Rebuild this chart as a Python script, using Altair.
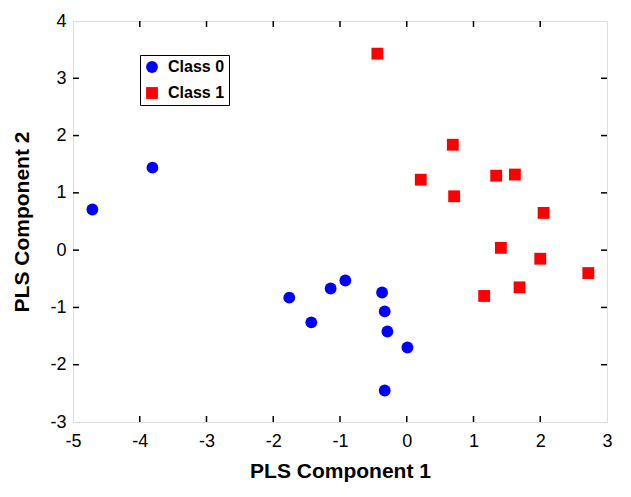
import altair as alt
import pandas as pd

class0_x = [-4.71, -3.81, -1.76, -1.43, -1.14, -0.92, -0.37, -0.33, -0.29, 0.01, -0.33]
class0_y = [0.71, 1.44, -0.83, -1.26, -0.67, -0.53, -0.74, -1.07, -1.42, -1.70, -2.45]
class1_x = [-0.44, 0.69, 0.21, 1.34, 1.62, 0.71, 2.05, 1.41, 2.00, 2.72, 1.69, 1.16]
class1_y = [3.43, 1.84, 1.23, 1.30, 1.32, 0.94, 0.65, 0.04, -0.15, -0.40, -0.65, -0.80]
x_ticks = [-4, -3, -2, -1, 0, 1, 2]
y_ticks = [-2, -1, 0, 1, 2, 3]

df = pd.DataFrame({
    "x": class0_x + class1_x,
    "y": class0_y + class1_y,
    "cls": ["Class 0"] * len(class0_x) + ["Class 1"] * len(class1_x),
})
xt = pd.DataFrame({"t": x_ticks})
yt = pd.DataFrame({"t": y_ticks})

W, H = 534, 401
FONT = "Liberation Sans"

xscale = alt.Scale(domain=[-5, 3], nice=False, zero=False)
yscale = alt.Scale(domain=[-3, 4], nice=False, zero=False)

points = alt.Chart(df).mark_point(filled=True, opacity=1, size=140).encode(
    x=alt.X("x:Q", scale=xscale, title="PLS Component 1",
            axis=alt.Axis(values=list(range(-5, 4)), ticks=False, domain=False, grid=False,
                          labelExpr="datum.value + ''",
                          labelPadding=10, labelFontSize=18, titleFontSize=21,
                          titleFontWeight="bold", titlePadding=10, labelColor="black",
                          titleColor="black", labelFont=FONT, titleFont=FONT, labelFlush=False)),
    y=alt.Y("y:Q", scale=yscale, title="PLS Component 2",
            axis=alt.Axis(values=list(range(-3, 5)), ticks=False, domain=False, grid=False,
                          labelExpr="datum.value + ''",
                          labelPadding=7, labelFontSize=18, titleFontSize=21,
                          titleFontWeight="bold", titlePadding=17, labelColor="black",
                          titleColor="black", labelFont=FONT, titleFont=FONT, labelFlush=False)),
    color=alt.Color("cls:N", scale=alt.Scale(domain=["Class 0", "Class 1"], range=["#0000ff", "#ff0000"]),
                    legend=alt.Legend(title=None, orient="none", legendX=67, legendY=34,
                                      strokeColor="black", fillColor="white", padding=4,
                                      labelFontWeight="bold", labelFontSize=16, labelFont=FONT,
                                      labelColor="black", symbolSize=140, rowPadding=10,
                                      labelOffset=8, symbolStrokeWidth=0, cornerRadius=0)),
    shape=alt.Shape("cls:N", scale=alt.Scale(domain=["Class 0", "Class 1"], range=["circle", "square"]),
                    legend=None),
)

tk = dict(color="black", strokeWidth=1.5)
bot = alt.Chart(xt).mark_rule(**tk).encode(x=alt.X("t:Q", scale=xscale), y=alt.value(H), y2=alt.value(H - 6))
top = alt.Chart(xt).mark_rule(**tk).encode(x=alt.X("t:Q", scale=xscale), y=alt.value(0), y2=alt.value(6))
lef = alt.Chart(yt).mark_rule(**tk).encode(y=alt.Y("t:Q", scale=yscale), x=alt.value(0), x2=alt.value(6))
rig = alt.Chart(yt).mark_rule(**tk).encode(y=alt.Y("t:Q", scale=yscale), x=alt.value(W), x2=alt.value(W - 6))

chart = alt.layer(bot, top, lef, rig, points).properties(
    width=W, height=H,
    autosize=alt.AutoSizeParams(type="none"),
    padding={"left": 65, "top": 13, "right": 12, "bottom": 60},
).configure_view(stroke="black", strokeWidth=2).configure(background="white")

chart.save("out.html", embed_options={"renderer": "svg", "actions": False})
